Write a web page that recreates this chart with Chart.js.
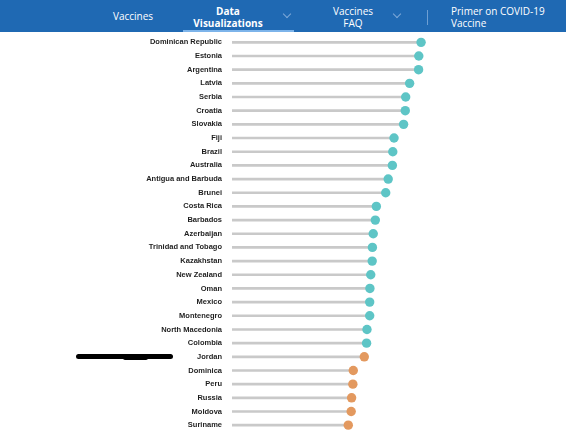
<!DOCTYPE html>
<html>
<head>
<meta charset="utf-8">
<script src="https://cdn.jsdelivr.net/npm/chart.js@4/dist/chart.umd.min.js"></script>
<style>
    html, body { margin: 0; padding: 0; background: #fff; }
    body { width: 566px; height: 432px; position: relative; overflow: hidden; font-family: "Open Sans", sans-serif; }
    #nav { position: absolute; left: 0; top: 0; width: 566px; height: 32px; background: #1f69b3; color: #fff; font-size: 10px; }
    #nav .item { position: absolute; line-height: 11.5px; }
    #nav .chev { position: absolute; top: 11px; width: 5px; height: 5px; border-right: 1px solid #7ea9d8; border-bottom: 1px solid #7ea9d8; transform: rotate(45deg); }
    #nav .under { position: absolute; left: 183px; top: 30px; width: 111px; height: 2px; background: #7db4ea; }
    #nav .sep { position: absolute; left: 427px; top: 10px; width: 1px; height: 15px; background: #6e9fd3; }
    #wrap { position: absolute; left: 0; top: 0; width: 566px; height: 432px; }
    #mark { position: absolute; left: 76px; top: 354px; width: 97px; height: 5px; background: #000; border-radius: 3px; }
    #mark:after { content: ""; position: absolute; left: 47px; top: -0.5px; width: 25px; height: 6px; background: #000; border-radius: 2px; }
</style>
</head>
<body>
<div id="wrap"><canvas id="lollipop"></canvas></div>
<div id="nav">
    <div class="item" style="left:113px; top:11px;">Vaccines</div>
    <div class="item" style="left:183px; top:6px; width:90px; text-align:center; font-weight:bold;">Data<br>Visualizations</div>
    <div class="chev" style="left:284px;"></div>
    <div class="item" style="left:323px; top:6px; width:60px; text-align:center;">Vaccines<br>FAQ</div>
    <div class="chev" style="left:394px;"></div>
    <div class="sep"></div>
    <div class="item" style="left:451px; top:6px;">Primer on COVID-19<br>Vaccine</div>
    <div class="under"></div>
</div>
<div id="mark"></div>
<script>
const countries = [
    "Dominican Republic", "Estonia", "Argentina", "Latvia", "Serbia", "Croatia", "Slovakia",
    "Fiji", "Brazil", "Australia", "Antigua and Barbuda", "Brunei", "Costa Rica", "Barbados",
    "Azerbaijan", "Trinidad and Tobago", "Kazakhstan", "New Zealand", "Oman", "Mexico",
    "Montenegro", "North Macedonia", "Colombia", "Jordan", "Dominica", "Peru", "Russia",
    "Moldova", "Suriname"
]
const values = [
    90.9, 89.8, 89.7, 85.4, 83.5, 83.3, 82.5,
    77.9, 77.3, 77.1, 75.1, 73.9, 69.4, 68.9,
    67.9, 67.5, 67.4, 66.7, 66.3, 66.2,
    66.2, 64.9, 64.7, 63.6, 58.3, 58.1, 57.5,
    57.3, 55.9
]
const cutoff = 64

const teal = '#5ec5c6'
const orange = '#e3995f'
const dotColors = values.map(v => v >= cutoff ? teal : orange)

const ctx = document.getElementById('lollipop').getContext('2d')
const lollipop = new Chart(ctx, {
    data: {
        labels: countries,
        datasets: [{
            type: 'line',
            data: values,
            showLine: false,
            pointRadius: 4.7,
            pointHoverRadius: 4.7,
            pointBackgroundColor: dotColors,
            pointBorderColor: dotColors,
            pointBorderWidth: 0,
            order: 0
        }, {
            type: 'bar',
            data: values,
            backgroundColor: '#c9c9c9',
            barThickness: 2,
            order: 1
        }]
    },
    options: {
        indexAxis: 'y',
        responsive: true,
        maintainAspectRatio: false,
        animation: false,
        layout: {
            autoPadding: false,
            padding: { top: 35.5, right: 126, bottom: 0, left: 0 }
        },
        plugins: {
            legend: { display: false },
            tooltip: { enabled: false }
        },
        scales: {
            x: {
                display: false,
                min: 0,
                max: 100
            },
            y: {
                grid: { display: false, drawTicks: false },
                border: { display: false },
                afterFit: function (scale) {
                    // labels sit inside the offset bands, no extra room needed
                    scale.width = 232
                    scale.paddingTop = 0
                    scale.paddingBottom = 0
                },
                ticks: {
                    padding: 10,
                    color: '#1e1e1e',
                    font: {
                        family: '"Liberation Sans", Arial, sans-serif',
                        size: 7.5,
                        weight: 'bold'
                    }
                }
            }
        }
    }
})
</script>
</body>
</html>
